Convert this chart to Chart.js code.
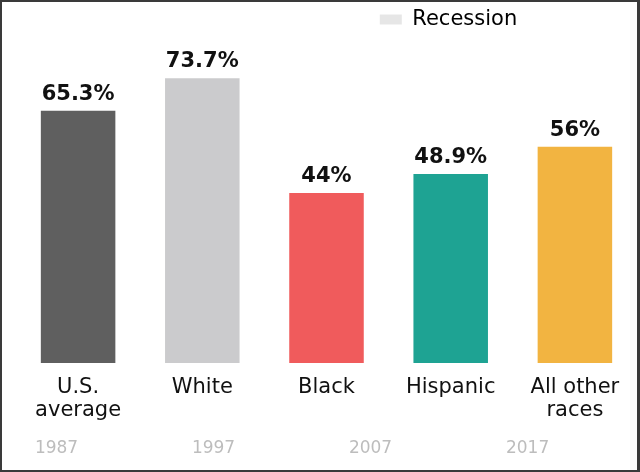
<!DOCTYPE html>
<html lang="en">
<head>
<meta charset="UTF-8">
<title>chart</title>
<script src="https://cdn.jsdelivr.net/npm/chart.js@4.4.0/dist/chart.umd.min.js"></script>
<style>
  body { margin: 0; background: #fff; }
  #wrap { position: relative; width: 640px; height: 472px; }
  #frame { position: absolute; left: 0; top: 0; width: 640px; height: 472px; box-sizing: border-box;
           border: 2px solid #3a3a3a; border-right-width: 3px; pointer-events: none; }
</style>
</head>
<body>
<div id="wrap">
  <canvas id="canvas" width="640" height="472"></canvas>
  <div id="frame"></div>
</div>
<script>
// share of households, by group
const groups = [['U.S.', 'average'], 'White', 'Black', 'Hispanic', ['All other', 'races']];
const rates = [65.3, 73.7, 44, 48.9, 56];
const barColors = ['#5f5f5f', '#cbcbcd', '#f05b5c', '#1ea393', '#f2b441'];
const yearTicks = [1987, 1997, 2007, 2017];
const legendText = 'Recession';

const FONT = '"DejaVu Sans", sans-serif';

// push the legend over to the right like the original
const shiftLegend = {
    id: 'shiftLegend',
    afterLayout(chart) {
        chart.legend.left += 122;
        chart.legend.right += 122;
    }
};

// percent labels on top of each bar
const valueLabels = {
    id: 'valueLabels',
    afterDatasetsDraw(chart) {
        const ctx = chart.ctx;
        const meta = chart.getDatasetMeta(0);
        ctx.save();
        ctx.font = 'bold 21px ' + FONT;
        ctx.fillStyle = '#111';
        ctx.textAlign = 'center';
        ctx.textBaseline = 'alphabetic';
        meta.data.forEach((bar, i) => {
            ctx.fillText(rates[i] + '%', bar.x, bar.y - 11);
        });
        ctx.restore();
    }
};

new Chart(document.getElementById('canvas'), {
    type: 'bar',
    data: {
        labels: groups,
        datasets: [{
            label: legendText,
            data: rates,
            backgroundColor: barColors,
            borderWidth: 0,
            barPercentage: 0.6,
            categoryPercentage: 1
        }]
    },
    options: {
        responsive: false,
        animation: false,
        devicePixelRatio: 1,
        layout: { padding: { left: 16, right: 3, top: 0, bottom: 0 } },
        plugins: {
            tooltip: { enabled: false },
            legend: {
                position: 'top',
                align: 'center',
                labels: {
                    boxWidth: 22,
                    boxHeight: 10,
                    padding: 9,
                    color: '#222',
                    font: { family: FONT, size: 21 },
                    generateLabels: () => [{
                        text: legendText,
                        fillStyle: '#e6e6e6',
                        strokeStyle: '#e6e6e6',
                        lineWidth: 0,
                        hidden: false,
                        datasetIndex: 0
                    }]
                }
            }
        },
        scales: {
            y: {
                display: false,
                min: 0,
                max: 83.6
            },
            x: {
                weight: 0,
                grid: { display: false, drawTicks: false },
                border: { display: false },
                afterFit: scale => { scale.height = 58; },
                ticks: {
                    color: '#111',
                    padding: 14,
                    maxRotation: 0,
                    font: { family: FONT, size: 21, lineHeight: 1.05 }
                }
            },
            x2: {
                type: 'linear',
                position: 'bottom',
                weight: 1,
                offset: false,
                bounds: 'data',
                min: 1984.42,
                max: 2023.97,
                grid: { display: false, drawTicks: false, offset: false },
                border: { display: false },
                afterFit: scale => { scale.height = 51; },
                afterBuildTicks: scale => {
                    scale.ticks = yearTicks.map(v => ({ value: v }));
                },
                ticks: {
                    color: '#bdbdbd',
                    padding: 17,
                    maxRotation: 0,
                    autoSkip: false,
                    callback: v => String(v),
                    font: { family: FONT, size: 17 }
                }
            }
        }
    },
    plugins: [shiftLegend, valueLabels]
});
</script>
</body>
</html>
